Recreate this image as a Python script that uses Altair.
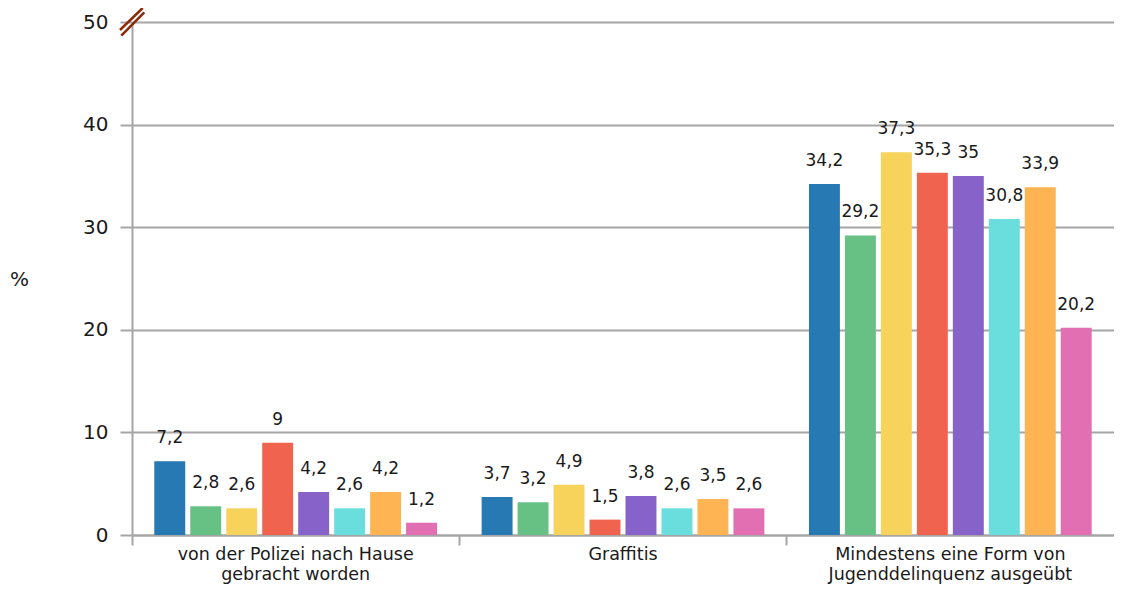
import altair as alt
import pandas as pd

categories = [
    "von der Polizei nach Hause gebracht worden",
    "Graffitis",
    "Mindestens eine Form von Jugenddelinquenz ausgeübt",
]
category_lines = [
    ["von der Polizei nach Hause", "gebracht worden"],
    ["Graffitis"],
    ["Mindestens eine Form von", "Jugenddelinquenz ausgeübt"],
]
series = ["Gruppe 1", "Gruppe 2", "Gruppe 3", "Gruppe 4",
          "Gruppe 5", "Gruppe 6", "Gruppe 7", "Gruppe 8"]
colors = ["#2679b2", "#67c184", "#f8d35b", "#f0634f",
          "#8662c9", "#69dedc", "#feb452", "#e26fb1"]

values_polizei = [7.2, 2.8, 2.6, 9, 4.2, 2.6, 4.2, 1.2]
values_graffitis = [3.7, 3.2, 4.9, 1.5, 3.8, 2.6, 3.5, 2.6]
values_mindestens = [34.2, 29.2, 37.3, 35.3, 35, 30.8, 33.9, 20.2]

y_ticks = [0, 10, 20, 30, 40, 50]

rows = []
for cat, vals in zip(categories, [values_polizei, values_graffitis, values_mindestens]):
    for s, v in zip(series, vals):
        rows.append({"Kategorie": cat, "Serie": s, "Wert": v,
                     "Label": f"{v:g}".replace(".", ",")})
df = pd.DataFrame(rows)

label_expr = " : ".join(
    f"datum.label == '{c}' ? {lines!r}" for c, lines in zip(categories, category_lines)
) + " : datum.label"

GRAY = "#a6a6a6"

x_enc = alt.X("Kategorie:N", sort=categories,
              scale=alt.Scale(paddingInner=0, paddingOuter=0),
              axis=alt.Axis(title=None, labelAngle=0, labelExpr=label_expr,
                            labelFontSize=17.5, labelLineHeight=20.5, labelPadding=0,
                            labelLimit=0,
                            labelColor="#1a1a1a", tickSize=10, tickColor=GRAY,
                            tickWidth=2, bandPosition=0, domainColor=GRAY,
                            domainWidth=2, grid=False))
xo_enc = alt.XOffset("Serie:N", sort=series,
                     scale=alt.Scale(paddingInner=0.14, paddingOuter=0.62))
y_enc = alt.Y("Wert:Q", scale=alt.Scale(domain=[0, 50], nice=False),
              axis=alt.Axis(title="%", titleAngle=0, titleX=-113, titleY=257,
                            titleAlign="center", titleBaseline="middle",
                            titleFontSize=20, titleFontWeight="normal",
                            titleColor="#1a1a1a",
                            values=y_ticks, labelFontSize=20, labelPadding=12,
                            labelColor="#1a1a1a",
                            tickSize=12, tickColor=GRAY, tickWidth=2,
                            domainColor=GRAY, domainWidth=2,
                            grid=True, gridColor=GRAY, gridWidth=2))

bars = alt.Chart(df).mark_bar().encode(
    x=x_enc, xOffset=xo_enc, y=y_enc,
    color=alt.Color("Serie:N", sort=series,
                    scale=alt.Scale(domain=series, range=colors), legend=None),
)

texts = alt.Chart(df).mark_text(dy=-23, fontSize=17, baseline="middle",
                                color="#1a1a1a").encode(
    x=alt.X("Kategorie:N", sort=categories), xOffset=alt.XOffset("Serie:N", sort=series),
    y=alt.Y("Wert:Q"), text="Label:N",
)

marker_df = pd.DataFrame({"k": [0]})
brk1 = alt.Chart(marker_df).mark_rule(color="#8b2a0a", strokeWidth=2.5).encode(
    x=alt.value(-12), x2=alt.value(10.7), y=alt.value(8), y2=alt.value(-14))
brk2 = alt.Chart(marker_df).mark_rule(color="#8b2a0a", strokeWidth=2.5).encode(
    x=alt.value(-10.7), x2=alt.value(12.3), y=alt.value(13.7), y2=alt.value(-9.7))

chart = alt.layer(bars, texts, brk1, brk2).properties(
    width=982, height=513,
    autosize=alt.AutoSizeParams(type="none"),
    padding={"left": 124, "top": 14, "right": 0, "bottom": 50},
).configure(font="DejaVu Sans").configure_view(stroke=None)

chart.save("out.html", embed_options={"renderer": "svg", "actions": False})
